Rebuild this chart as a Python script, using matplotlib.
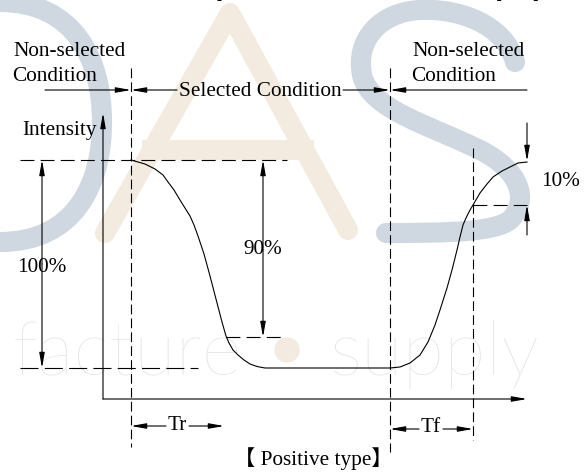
import matplotlib
matplotlib.use("Agg")
import matplotlib.pyplot as plt
from matplotlib.patches import FancyArrowPatch, PathPatch, Circle
from matplotlib.path import Path

plt.rcParams['lines.scale_dashes'] = False

# response curve (pixel coords, y grows downwards)
fall_x = [131, 145, 155, 163, 168, 174, 180, 185, 190, 194, 198, 201, 204,
          210, 216, 222, 226, 229, 233, 238, 244, 250, 257, 265]
fall_y = [160, 164, 169, 175, 182, 190, 200, 208, 216, 225, 236, 245, 254,
          276, 299, 322, 336, 343, 350, 355, 360, 364, 366.5, 368]
rise_x = [390, 400, 410, 420, 428, 435, 440, 447, 452, 457, 460, 463, 466, 470,
          473, 480, 487, 493, 502, 510, 518, 527]
rise_y = [368, 367, 363, 355, 342, 325, 310, 288, 270, 250, 237, 225, 218, 210,
          205, 193, 184, 177, 171, 167, 163, 162]

# levels and time markers
top_level = 160
bottom_level = 368
level_90 = 337
level_10 = 205
t_on = 131
t_bottom_start = 390
t_rise_90 = 473
t_peak = 527

SERIF = ['Liberation Serif', 'DejaVu Serif']
FS = 15.3

fig = plt.figure(figsize=(5.87, 4.74), dpi=100)
ax = fig.add_axes([0, 0, 1, 1])
ax.set_xlim(0, 587)
ax.set_ylim(474, 0)
ax.axis('off')

# --- faint watermark in the background ---
blue = '#cfd8e1'
beige = '#f3ebdf'
wm_lw = 14.5
d_path = Path([(0, 2), (75, 2), (102, 60), (102, 122), (102, 184), (75, 242), (0, 242)],
              [Path.MOVETO, Path.CURVE4, Path.CURVE4, Path.CURVE4, Path.CURVE4, Path.CURVE4, Path.CURVE4])
ax.add_patch(PathPatch(d_path, fill=False, ec=blue, lw=wm_lw, capstyle='round', zorder=0))
ax.plot([105, 230, 348], [233, 13, 230], color=beige, lw=wm_lw, solid_capstyle='round',
        solid_joinstyle='round', zorder=0)
ax.plot([152, 304], [150, 150], color=beige, lw=wm_lw, zorder=0)
s_path = Path([(515, 62), (505, 25), (460, 8), (420, 10),
               (380, 12), (355, 40), (362, 75),
               (370, 110), (430, 125), (480, 150),
               (520, 170), (530, 200), (510, 220),
               (495, 232), (450, 233), (386, 233)],
              [Path.MOVETO] + [Path.CURVE4] * 15)
ax.add_patch(PathPatch(s_path, fill=False, ec=blue, lw=wm_lw, capstyle='round', zorder=0))
ax.add_patch(Circle((287, 350), 12, color=beige, zorder=0))
ax.text(13, 375, 'facture', fontsize=55, color='#e4e4e4', family=['Lato', 'DejaVu Sans'],
        fontweight='light', va='baseline', ha='left', zorder=0)
ax.text(330, 375, 'supply', fontsize=55, color='#e4e4e4', family=['Lato', 'DejaVu Sans'],
        fontweight='light', va='baseline', ha='left', zorder=0)

# cropped title at the very top
ax.text(543, -5, 'Response Time Curves (Ta)', fontsize=21, fontweight='bold',
        family=['Liberation Sans', 'DejaVu Sans'], ha='right', va='baseline', zorder=3)

LW = 0.8


def arrow(p0, p1):
    ax.add_patch(FancyArrowPatch(p0, p1, arrowstyle='-|>,head_length=0.9,head_width=0.16',
                                 mutation_scale=10, shrinkA=0, shrinkB=0, lw=LW,
                                 color='black', zorder=3))


def dashed(xs, ys, on=7.0, off=3.0):
    ax.plot(xs, ys, color='black', lw=LW, dashes=(on, off), zorder=2)


# curve
ax.plot(fall_x + rise_x, fall_y + rise_y, color='black', lw=LW, zorder=3)

# axes of the diagram
arrow((103, 399), (103, 113))
arrow((103, 399), (527, 399))
ax.text(22, 131, 'Intensity', fontsize=FS, family=SERIF, ha='left', va='center', zorder=3)

# reference levels
dashed([20, 287], [top_level, top_level], 10, 4.5)
dashed([20, 198], [bottom_level, bottom_level], 13, 4.5)
dashed([226, 285], [level_90, level_90], 10, 4.5)
dashed([t_rise_90, t_peak], [level_10, level_10], 10, 4.5)

# vertical time markers
dashed([t_on, t_on], [68, 447])
dashed([t_bottom_start, t_bottom_start], [68, 452])
dashed([t_rise_90, t_rise_90], [148, 440])

# 100% and 90% spans
arrow((42, 264), (42, top_level))
arrow((42, 264), (42, bottom_level))
ax.text(42, 267, '100%', fontsize=FS, family=SERIF, ha='center', va='center', zorder=3)
arrow((263, 250), (263, top_level))
arrow((263, 250), (263, level_90))
ax.text(263, 249, '90%', fontsize=FS, family=SERIF, ha='center', va='center', zorder=3)

# 10% span
arrow((t_peak, 123), (t_peak, 161))
arrow((t_peak, 235), (t_peak, level_10))
ax.text(541, 182, '10%', fontsize=FS, family=SERIF, ha='left', va='center', zorder=3)

# condition labels
arrow((45, 90), (t_on, 90))
arrow((177, 90), (t_on, 90))
ax.text(260, 91, 'Selected Condition', fontsize=FS, family=SERIF, ha='center', va='center', zorder=3)
arrow((343, 90), (t_bottom_start, 90))
arrow((527, 90), (t_bottom_start, 90))
ax.text(13, 51, 'Non-selected', fontsize=FS, family=SERIF, ha='left', va='center', zorder=3)
ax.text(12, 76, 'Condition', fontsize=FS, family=SERIF, ha='left', va='center', zorder=3)
ax.text(412, 51, 'Non-selected', fontsize=FS, family=SERIF, ha='left', va='center', zorder=3)
ax.text(411, 76, 'Condition', fontsize=FS, family=SERIF, ha='left', va='center', zorder=3)

# Tr / Tf
arrow((166, 426), (t_on, 426))
arrow((189, 426), (224, 426))
ax.text(177, 425, 'Tr', fontsize=FS, family=SERIF, ha='center', va='center', zorder=3)
arrow((419, 429), (t_bottom_start, 429))
arrow((443, 429), (t_rise_90, 429))
ax.text(431, 428, 'Tf', fontsize=FS, family=SERIF, ha='center', va='center', zorder=3)

ax.text(313, 465, '【 Positive type】', fontsize=FS, family=['Liberation Serif', 'Noto Sans CJK SC'],
        ha='center', va='baseline', zorder=3)

fig.savefig('out.png', dpi=100)
